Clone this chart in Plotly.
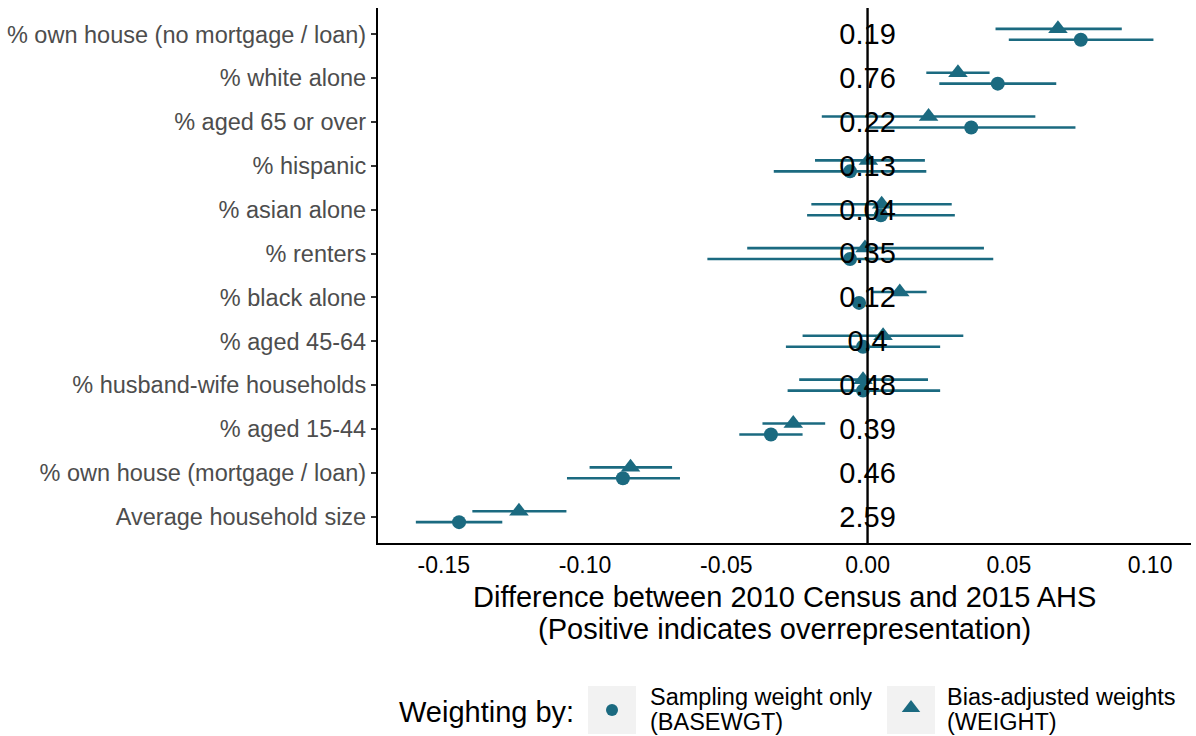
import plotly.graph_objects as go

# ---------------- data ----------------
categories = [
    "% own house (no mortgage / loan)", "% white alone", "% aged 65 or over",
    "% hispanic", "% asian alone", "% renters", "% black alone", "% aged 45-64",
    "% husband-wife households", "% aged 15-44", "% own house (mortgage / loan)",
    "Average household size",
]
census_values = ["0.19", "0.76", "0.22", "0.13", "0.04", "0.35", "0.12", "0.4",
                 "0.48", "0.39", "0.46", "2.59"]

base_est = [0.0755, 0.0461, 0.0367, -0.0062, 0.0047, -0.0062, -0.0030, -0.0016,
            -0.0016, -0.0342, -0.0866, -0.1446]
base_lo = [0.0500, 0.0254, -0.0002, -0.0332, -0.0214, -0.0567, -0.0050, -0.0289,
           -0.0283, -0.0454, -0.1064, -0.1599]
base_hi = [0.1012, 0.0668, 0.0736, 0.0208, 0.0309, 0.0445, -0.0010, 0.0257,
           0.0257, -0.0230, -0.0664, -0.1293]

adj_est = [0.0674, 0.0320, 0.0216, 0.0003, 0.0050, -0.0009, 0.0114, 0.0055,
           -0.0016, -0.0263, -0.0839, -0.1234]
adj_lo = [0.0453, 0.0208, -0.0162, -0.0186, -0.0199, -0.0426, 0.0019, -0.0230,
          -0.0242, -0.0372, -0.0984, -0.1399]
adj_hi = [0.0900, 0.0432, 0.0594, 0.0203, 0.0298, 0.0412, 0.0209, 0.0339,
          0.0214, -0.0150, -0.0692, -0.1066]

x_ticks = [-0.15, -0.10, -0.05, 0.00, 0.05, 0.10]
x_tick_labels = ["-0.15", "-0.10", "-0.05", "0.00", "0.05", "0.10"]

series_line1 = ["Sampling weight only", "Bias-adjusted weights"]
series_line2 = ["(BASEWGT)", "(WEIGHT)"]
legend_title = "Weighting by:"
x_title_lines = ["Difference between 2010 Census and 2015 AHS",
                 "(Positive indicates overrepresentation)"]

# ---------------- layout constants ----------------
W, H = 1196, 736
COLOR = "#1B6A80"
FONT = "Liberation Sans, Arial, sans-serif"
n = len(categories)
ypos = [n - i for i in range(n)]
dodge = 0.125
text_dy = -0.06
px_l, px_r, px_t, px_b = 378, 1191, 8, 543

fig = go.Figure()

def err(est, lo, hi):
    return dict(type="data", symmetric=False,
                array=[h - e for e, h in zip(est, hi)],
                arrayminus=[e - l for e, l in zip(est, lo)],
                width=0, thickness=2.6, color=COLOR)

fig.add_trace(go.Scatter(
    x=base_est, y=[y - dodge for y in ypos], mode="markers",
    marker=dict(symbol="circle", size=14, color=COLOR),
    error_x=err(base_est, base_lo, base_hi), showlegend=False,
))
fig.add_trace(go.Scatter(
    x=adj_est, y=[y + dodge for y in ypos], mode="markers",
    marker=dict(symbol="triangle-up", size=17, color=COLOR),
    error_x=err(adj_est, adj_lo, adj_hi), showlegend=False,
))
fig.add_trace(go.Scatter(
    x=[0] * n, y=[y + text_dy for y in ypos], mode="text", text=census_values,
    textposition="middle center",
    textfont=dict(family=FONT, size=29, color="black"), showlegend=False,
))

# zero line
fig.add_shape(type="line", xref="x", yref="y", x0=0, x1=0, y0=0.4, y1=12.6,
              line=dict(color="black", width=2.4), layer="above")

# ---------------- legend (manual, pixel coords) ----------------
def pxx(v):
    return v / W

def pxy(v):
    return 1 - v / H

for x0 in (588, 887):
    fig.add_shape(type="rect", xref="paper", yref="paper",
                  x0=pxx(x0), x1=pxx(x0 + 48), y0=pxy(734), y1=pxy(686),
                  fillcolor="#F2F2F2", line=dict(width=0), layer="below")

fig.add_trace(go.Scatter(x=[612], y=[710], xaxis="x2", yaxis="y2", mode="markers",
                         marker=dict(symbol="circle", size=12, color=COLOR),
                         showlegend=False, hoverinfo="skip"))
fig.add_trace(go.Scatter(x=[911], y=[708], xaxis="x2", yaxis="y2", mode="markers",
                         marker=dict(symbol="triangle-up", size=16, color=COLOR),
                         showlegend=False, hoverinfo="skip"))

annotations = [
    dict(text=legend_title, x=pxx(397), y=pxy(712), xanchor="left", yanchor="middle",
         font=dict(family=FONT, size=29, color="black")),
]
for xl, l1, l2 in zip((648, 945), series_line1, series_line2):
    annotations.append(dict(text=l1, x=pxx(xl), y=pxy(697), xanchor="left",
                            yanchor="middle",
                            font=dict(family=FONT, size=23.5, color="black")))
    annotations.append(dict(text=l2, x=pxx(xl), y=pxy(722), xanchor="left",
                            yanchor="middle",
                            font=dict(family=FONT, size=23.5, color="black")))
for yl, t in zip((597, 629), x_title_lines):
    annotations.append(dict(text=t, x=pxx((px_l + px_r) / 2), y=pxy(yl),
                            xanchor="center", yanchor="middle",
                            font=dict(family=FONT, size=29, color="black")))
for a in annotations:
    a.update(xref="paper", yref="paper", showarrow=False)

fig.update_layout(
    width=W, height=H,
    margin=dict(l=0, r=0, t=0, b=0),
    paper_bgcolor="white", plot_bgcolor="rgba(0,0,0,0)",
    showlegend=False,
    annotations=annotations,
    xaxis=dict(
        domain=[pxx(px_l), pxx(px_r)], range=[-0.1733, 0.1145],
        tickvals=x_ticks, ticktext=x_tick_labels, ticks="",
        showgrid=False, zeroline=False,
        showline=True, linecolor="black", linewidth=2.2,
        tickfont=dict(family=FONT, size=23, color="black"),
        anchor="y",
    ),
    yaxis=dict(
        domain=[pxy(px_b), pxy(px_t)], range=[0.4, n + 0.6],
        tickvals=ypos, ticktext=categories,
        ticks="outside", ticklen=5, tickwidth=1.5, tickcolor="#333333",
        showgrid=False, zeroline=False,
        showline=True, linecolor="black", linewidth=2.2,
        tickfont=dict(family=FONT, size=23.5, color="#4D4D4D"),
        anchor="x",
    ),
    xaxis2=dict(domain=[0, 1], range=[0, W], visible=False, anchor="y2"),
    yaxis2=dict(domain=[0, 1], range=[H, 0], visible=False, anchor="x2"),
)

fig.write_html("out.html")
